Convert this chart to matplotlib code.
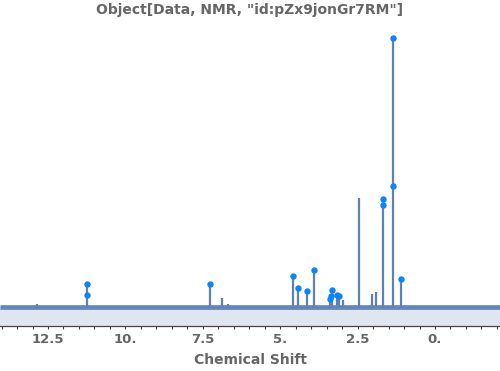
import matplotlib.pyplot as plt
from matplotlib.ticker import FixedLocator, MultipleLocator

# peak positions (ppm) and heights (relative, tallest = 100)
peak_ppm = [12.87, 11.24, 7.26, 6.88, 6.7, 4.59, 4.43, 4.14, 3.90, 3.39, 3.33,
            3.15, 3.10, 2.97, 2.44, 2.04, 1.91, 1.69, 1.35, 1.10]
peak_int = [1.0, 8.7, 8.7, 3.3, 1.2, 11.6, 7.2, 6.1, 13.9, 3.0, 6.4,
            4.6, 4.1, 2.6, 40.5, 4.8, 5.7, 40.1, 100.0, 10.5]

# picked peaks (markers)
pick_ppm = [11.24, 11.24, 7.26, 4.59, 4.43, 4.14, 3.90, 3.39, 3.33, 3.36,
            3.15, 3.10, 1.69, 1.69, 1.35, 1.35, 1.10]
pick_int = [8.7, 4.6, 8.7, 11.6, 7.2, 6.1, 13.9, 3.0, 6.4, 4.2,
            4.6, 4.1, 40.1, 37.9, 100.0, 45.0, 10.5]

tick_pos = [12.5, 10, 7.5, 5, 2.5, 0]
tick_lab = ["12.5", "10.", "7.5", "5.", "2.5", "0."]

line_c = "#5e81b5"
text_c = "#666666"
x_left, x_right = 14.05, -2.1
y_bot, y_top = -6.95, 106.7

fig = plt.figure(figsize=(5, 3.71), dpi=100)
ax = fig.add_axes([0, 0.122, 1, 0.824])

ax.fill_between([x_left, x_right], y_bot, 0, color="#dfe6f0", lw=0)
ax.plot([x_left, x_right], [0, 0], color=line_c, lw=3.4, alpha=0.95, solid_capstyle="butt")
ax.vlines(peak_ppm, 0, peak_int, color=line_c, lw=1.6)
ax.plot(pick_ppm, pick_int, "o", color="#0a84ff", ms=4.6, mec="none", zorder=5)

ax.set_xlim(x_left, x_right)
ax.set_ylim(y_bot, y_top)
for s in ["top", "left", "right"]:
    ax.spines[s].set_visible(False)
ax.spines["bottom"].set_color("#444444")
ax.spines["bottom"].set_linewidth(0.9)
ax.set_yticks([])
ax.xaxis.set_major_locator(FixedLocator(tick_pos))
ax.set_xticklabels(tick_lab, fontsize=9.5, fontweight="bold", color=text_c)
ax.xaxis.set_minor_locator(MultipleLocator(0.5))
ax.tick_params(axis="x", which="major", length=2.3, width=0.8, color="#444444", pad=3)
ax.tick_params(axis="x", which="minor", length=2.3, width=0.8, color="#444444")

fig.text(0.5, 1 - 10 / 371, 'Object[Data, NMR, "id:pZx9jonGr7RM"]', ha="center", va="center",
         fontsize=10, fontweight="bold", color=text_c)
fig.text(0.5, 1 - 360 / 371, "Chemical Shift", ha="center", va="center",
         fontsize=10, fontweight="bold", color=text_c)

fig.savefig("out.png", dpi=100)
